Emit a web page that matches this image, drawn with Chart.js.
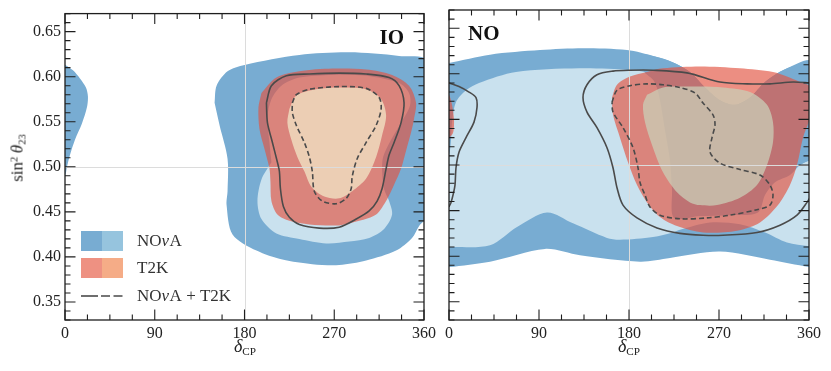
<!DOCTYPE html>
<html>
<head>
<meta charset="utf-8">
<title>NOvA and T2K, sin2 theta23 vs delta CP</title>
<script src="https://cdn.jsdelivr.net/npm/chart.js"></script>
<style>
  body { margin: 0; background: #fff; }
  #wrap { position: relative; width: 831px; height: 371px; font-family: "Liberation Serif", serif; color: #222; }
  canvas { position: absolute; top: 0; }
  #io { left: 0; }
  #no { left: 440px; }
  .xt { position: absolute; top: 337px; transform: translateX(-50%); font-size: 18px; line-height: 1; white-space: nowrap; }
  .yt { position: absolute; left: 17px; top: 158px; transform: translate(-50%, -50%) rotate(-90deg); font-size: 17px; font-weight: normal; line-height: 1; white-space: nowrap; }
  .sb { font-size: 0.62em; position: relative; top: 0.3em; }
  .sp { font-size: 0.62em; position: relative; top: -0.45em; }
</style>
</head>
<body>
<div id="wrap">
  <canvas id="io" width="440" height="371"></canvas>
  <canvas id="no" width="391" height="371"></canvas>
  <div class="yt">sin<span class="sp">2</span>&#8201;<i>θ</i><span class="sb">23</span></div>
  <div class="xt" style="left:245px"><i>δ</i><span class="sb">CP</span></div>
  <div class="xt" style="left:629px"><i>δ</i><span class="sb">CP</span></div>
</div>
<script>
// axis ticks
const xTickVals = [0, 90, 180, 270, 360];
const yTickVals = [0.35, 0.40, 0.45, 0.50, 0.55, 0.60, 0.65];

// ---- IO panel (delta_CP in degrees, sin^2 theta23) ----
const ioNova90D = [150, 155, 163, 163, 162, 168, 192, 218, 248, 275, 302, 332, 348, 355, 363, 363, 335, 285, 235, 180, 163, 152];
const ioNova90S = [0.571, 0.546, 0.509, 0.473, 0.458, 0.425, 0.407, 0.397, 0.392, 0.391, 0.396, 0.407, 0.421, 0.434, 0.446, 0.617, 0.623, 0.627, 0.624, 0.613, 0.606, 0.590];
const ioNova90WrapD = [-3, 0, 8, 15, 21, 23, 22, 17, 10, 5, 2, 0, -3];
const ioNova90WrapS = [0.613, 0.613, 0.607, 0.598, 0.588, 0.578, 0.566, 0.548, 0.530, 0.513, 0.500, 0.490, 0.490];
const ioNova68D = [207, 197, 193, 197, 212, 235, 262, 285, 305, 320, 328, 325, 320, 318, 319, 327, 337, 346, 345, 335, 302, 268, 235, 217, 207, 203, 205];
const ioNova68S = [0.505, 0.486, 0.462, 0.442, 0.426, 0.420, 0.415, 0.417, 0.421, 0.431, 0.447, 0.462, 0.475, 0.495, 0.511, 0.530, 0.549, 0.568, 0.582, 0.593, 0.601, 0.602, 0.599, 0.590, 0.575, 0.555, 0.527];
const ioT2k90D = [197, 212, 235, 268, 302, 328, 345, 352, 350, 347, 343, 337, 330, 323, 312, 295, 275, 245, 225, 213, 207, 206, 205, 200, 195, 194];
const ioT2k90S = [0.582, 0.599, 0.606, 0.609, 0.608, 0.602, 0.590, 0.571, 0.553, 0.538, 0.522, 0.498, 0.480, 0.464, 0.447, 0.440, 0.435, 0.436, 0.440, 0.447, 0.462, 0.484, 0.498, 0.520, 0.542, 0.566];
const ioT2k68D = [225, 232, 252, 275, 302, 317, 322, 318, 312, 302, 288, 275, 260, 247, 240, 233, 227, 223];
const ioT2k68S = [0.564, 0.579, 0.586, 0.588, 0.586, 0.575, 0.557, 0.535, 0.511, 0.487, 0.473, 0.465, 0.467, 0.478, 0.495, 0.511, 0.530, 0.549];
const ioBoth90D = [202, 207, 222, 245, 275, 302, 325, 335, 340, 337, 330, 325, 322, 318, 313, 305, 292, 275, 255, 235, 225, 219, 216, 215, 213, 208, 203];
const ioBoth90S = [0.571, 0.590, 0.601, 0.603, 0.604, 0.603, 0.599, 0.590, 0.571, 0.549, 0.527, 0.513, 0.498, 0.476, 0.462, 0.451, 0.442, 0.433, 0.432, 0.436, 0.444, 0.456, 0.476, 0.495, 0.505, 0.527, 0.549];
const ioBoth68D = [228, 232, 245, 275, 302, 315, 317, 312, 302, 293, 288, 287, 282, 272, 258, 250, 248, 245, 240, 232, 228];
const ioBoth68S = [0.571, 0.580, 0.586, 0.589, 0.587, 0.577, 0.564, 0.546, 0.527, 0.509, 0.489, 0.476, 0.465, 0.459, 0.462, 0.473, 0.495, 0.511, 0.527, 0.546, 0.560];

// ---- NO panel ----
const noNova90D = [-3, 0, 41, 91, 134, 178, 206, 223, 241, 256, 271, 286, 301, 316, 336, 360, 363, 363, 360, 321, 271, 221, 191, 131, 96, 41, 0, -3];
const noNova90S = [0.612, 0.612, 0.621, 0.626, 0.628, 0.626, 0.619, 0.613, 0.602, 0.585, 0.571, 0.566, 0.574, 0.591, 0.605, 0.613, 0.613, 0.388, 0.388, 0.396, 0.405, 0.398, 0.394, 0.401, 0.408, 0.394, 0.388, 0.388];
const noNova68D = [-3, 0, 2, 3, 7, 17, 30, 67, 130, 181, 201, 216, 231, 251, 291, 331, 360, 363, 363, 360, 338, 316, 291, 261, 231, 224, 204, 171, 158, 124, 98, 68, 41, 0, -3];
const noNova68S = [0.511, 0.511, 0.527, 0.547, 0.569, 0.582, 0.590, 0.602, 0.606, 0.604, 0.599, 0.560, 0.520, 0.490, 0.480, 0.490, 0.505, 0.505, 0.411, 0.411, 0.415, 0.426, 0.435, 0.437, 0.429, 0.426, 0.421, 0.418, 0.420, 0.436, 0.448, 0.432, 0.412, 0.410, 0.410];
const noNovaGapD = [196, 206, 211, 216, 221, 223, 225, 251, 281, 309, 316, 326, 341, 351, 360, 363, 363, 336, 316, 301, 286, 271, 256, 241, 223, 206, 191];
const noNovaGapS = [0.601, 0.591, 0.571, 0.538, 0.505, 0.473, 0.442, 0.444, 0.445, 0.448, 0.467, 0.481, 0.489, 0.500, 0.505, 0.505, 0.613, 0.605, 0.591, 0.574, 0.566, 0.571, 0.585, 0.602, 0.613, 0.619, 0.621];
const noT2k90D = [163, 168, 181, 198, 214, 251, 291, 324, 338, 351, 362, 362, 354, 348, 341, 329, 311, 288, 254, 228, 211, 198, 188, 179, 171, 164];
const noT2k90S = [0.574, 0.588, 0.597, 0.602, 0.606, 0.608, 0.606, 0.602, 0.597, 0.591, 0.585, 0.556, 0.530, 0.500, 0.478, 0.456, 0.437, 0.428, 0.426, 0.433, 0.443, 0.459, 0.478, 0.503, 0.530, 0.555];
const noT2k90WrapD = [-3, 0, 3, 5, 4, 0, -3];
const noT2k90WrapS = [0.578, 0.577, 0.566, 0.549, 0.535, 0.530, 0.530];
const noT2k68D = [198, 214, 231, 251, 274, 301, 318, 324, 324, 318, 308, 291, 268, 251, 241, 228, 214, 203, 196, 194];
const noT2k68S = [0.577, 0.585, 0.586, 0.586, 0.585, 0.580, 0.566, 0.547, 0.525, 0.500, 0.478, 0.464, 0.456, 0.456, 0.459, 0.470, 0.492, 0.522, 0.547, 0.566];
const noBoth90D = [362, 344, 321, 298, 271, 238, 204, 181, 164, 148, 138, 134, 138, 148, 158, 164, 168, 174, 188, 208, 231, 254, 274, 308, 331, 348, 358, 362];
const noBoth90S = [0.590, 0.591, 0.589, 0.589, 0.591, 0.601, 0.604, 0.604, 0.603, 0.599, 0.588, 0.574, 0.558, 0.541, 0.519, 0.497, 0.475, 0.456, 0.442, 0.431, 0.425, 0.423, 0.423, 0.426, 0.434, 0.445, 0.459, 0.466];
const noBoth90WrapD = [0, 10, 20, 27, 28, 25, 17, 10, 7, 6, 4, 2, 0];
const noBoth90WrapS = [0.590, 0.586, 0.580, 0.574, 0.563, 0.547, 0.530, 0.514, 0.497, 0.478, 0.467, 0.459, 0.454];
const noBoth68D = [163, 168, 181, 198, 214, 231, 246, 254, 264, 266, 263, 261, 271, 291, 311, 321, 324, 321, 308, 281, 258, 231, 211, 201, 196, 191, 189, 184, 174, 164];
const noBoth68S = [0.569, 0.582, 0.587, 0.589, 0.588, 0.585, 0.579, 0.568, 0.555, 0.544, 0.530, 0.514, 0.502, 0.495, 0.489, 0.478, 0.467, 0.456, 0.451, 0.445, 0.442, 0.441, 0.445, 0.454, 0.467, 0.481, 0.497, 0.519, 0.541, 0.558];

const blueDark = '#78acd2';
const blueLight = '#c9e1ee';
const t2kOuter = 'rgba(226,84,66,0.66)';
const lineCol = '#4a4a4a';

function pts(d, s) {
  return d.map((v, i) => ({ x: v, y: s[i] }));
}
function area(d, s, color, extra) {
  const p = pts(d, s);
  p.push(p[0]);
  return Object.assign({ data: p, fill: 'shape', backgroundColor: color, borderWidth: 0, pointRadius: 0, tension: 0.3 }, extra || {});
}
function curve(d, s, dash, closed) {
  const p = pts(d, s);
  if (closed) p.push(p[0]);
  return { data: p, fill: false, borderColor: lineCol, borderWidth: 1.6, borderDash: dash, pointRadius: 0, tension: 0.3 };
}
// first in list = bottom layer
function layered(list) {
  return list.map((ds, i) => Object.assign(ds, { order: list.length - i }));
}

const tickFont = { family: 'Liberation Serif', size: 16 };

function scalesFor(showY, yWidth) {
  return {
    x: {
      type: 'linear', min: 0, max: 360,
      grid: { display: false, drawTicks: false }, border: { display: false },
      afterBuildTicks: s => { s.ticks = xTickVals.map(v => ({ value: v })); },
      afterFit: s => { s.height = 51; },
      ticks: { color: '#222', padding: 4, maxRotation: 0, autoSkip: false, font: tickFont }
    },
    y: {
      type: 'linear', min: 0.33, max: 0.67,
      grid: { display: false, drawTicks: false }, border: { display: false },
      afterBuildTicks: s => { s.ticks = yTickVals.map(v => ({ value: v })); },
      afterFit: s => { s.width = yWidth; },
      ticks: { display: showY, color: '#222', padding: 4, font: tickFont, callback: v => v.toFixed(2) }
    }
  };
}

// frame, grid lines and inward ticks
const framePlugin = {
  id: 'frame',
  afterDatasetDraw(chart, args) {
    if (!chart.data.datasets[args.index].gridAfter) return;
    const { ctx, chartArea: a, scales: { x, y } } = chart;
    ctx.save();
    ctx.strokeStyle = '#dcdcdc';
    ctx.lineWidth = 1;
    const gx = Math.round(x.getPixelForValue(180)) + 0.5;
    const gy = Math.round(y.getPixelForValue(0.5)) + 0.5;
    ctx.beginPath();
    ctx.moveTo(gx, a.top); ctx.lineTo(gx, a.bottom);
    ctx.moveTo(a.left, gy); ctx.lineTo(a.right, gy);
    ctx.stroke();
    ctx.restore();
  },
  afterDraw(chart) {
    const { ctx, chartArea: a, scales: { x, y } } = chart;
    ctx.save();
    ctx.strokeStyle = '#1e1e1e';
    ctx.lineWidth = 1.1;
    ctx.beginPath();
    for (let i = 0; i <= 16; i++) {
      const v = i * 22.5;
      const px = x.getPixelForValue(v);
      const len = xTickVals.includes(v) ? 10.5 : 5.5;
      ctx.moveTo(px, a.bottom); ctx.lineTo(px, a.bottom - len);
      ctx.moveTo(px, a.top); ctx.lineTo(px, a.top + len);
    }
    for (let i = 33; i <= 67; i++) {
      const v = i / 100;
      const py = y.getPixelForValue(v);
      const len = (i % 5 === 0) ? 10.5 : 5.5;
      ctx.moveTo(a.left, py); ctx.lineTo(a.left + len, py);
      ctx.moveTo(a.right, py); ctx.lineTo(a.right - len, py);
    }
    ctx.stroke();
    ctx.lineWidth = 1.3;
    ctx.strokeRect(a.left, a.top, a.right - a.left, a.bottom - a.top);
    ctx.restore();
  }
};

// draws "NO", italic nu, then the rest
function novaText(ctx, x, y, rest) {
  ctx.font = '17px "Liberation Serif"';
  ctx.fillText('NO', x, y);
  x += ctx.measureText('NO').width;
  ctx.font = 'italic 17px "Liberation Serif"';
  ctx.fillText('\u03BD', x, y);
  x += ctx.measureText('\u03BD').width + 0.5;
  ctx.font = '17px "Liberation Serif"';
  ctx.fillText(rest, x, y);
}

// panel label and legend (legend only on IO)
const decoPlugin = {
  id: 'deco',
  afterDraw(chart, args, opts) {
    const { ctx, chartArea: a } = chart;
    ctx.save();
    ctx.fillStyle = '#111';
    ctx.font = 'bold 21px "Liberation Serif"';
    ctx.textBaseline = 'alphabetic';
    if (opts.align === 'right') {
      ctx.textAlign = 'right';
      ctx.fillText(opts.text, a.right - 20, a.top + 30);
    } else {
      ctx.textAlign = 'left';
      ctx.fillText(opts.text, a.left + 19, a.top + 30);
    }
    if (opts.legend) {
      const lx = a.left + 16, w = 21, h = 20;
      const rows = [a.bottom - 89, a.bottom - 62];
      ctx.fillStyle = '#78acd2'; ctx.fillRect(lx, rows[0], w, h);
      ctx.fillStyle = '#96c4de'; ctx.fillRect(lx + w, rows[0], w, h);
      ctx.fillStyle = '#ee9182'; ctx.fillRect(lx, rows[1], w, h);
      ctx.fillStyle = '#f5ac87'; ctx.fillRect(lx + w, rows[1], w, h);
      const ly = a.bottom - 24;
      ctx.strokeStyle = lineCol; ctx.lineWidth = 1.6;
      ctx.beginPath(); ctx.moveTo(lx, ly); ctx.lineTo(lx + 17, ly); ctx.stroke();
      ctx.setLineDash([9, 3.5]);
      ctx.beginPath(); ctx.moveTo(lx + 20, ly); ctx.lineTo(lx + 42, ly); ctx.stroke();
      ctx.setLineDash([]);
      ctx.fillStyle = '#333';
      ctx.textAlign = 'left';
      ctx.textBaseline = 'middle';
      const tx = lx + 56;
      novaText(ctx, tx, rows[0] + 11, 'A');
      ctx.fillText('T2K', tx, rows[1] + 11);
      novaText(ctx, tx, ly + 1, 'A + T2K');
    }
    ctx.restore();
  }
};

const ioDatasets = layered([
  area(ioNova90D, ioNova90S, blueDark),
  area(ioNova90WrapD, ioNova90WrapS, blueDark),
  area(ioNova68D, ioNova68S, blueLight),
  area(ioT2k90D, ioT2k90S, t2kOuter),
  area(ioT2k68D, ioT2k68S, 'rgba(238,218,190,0.85)', { gridAfter: true }),
  curve(ioBoth90D, ioBoth90S, [], true),
  curve(ioBoth68D, ioBoth68S, [5, 3], true)
]);

const noDatasets = layered([
  area(noNova90D, noNova90S, blueDark),
  area(noNova68D, noNova68S, blueLight),
  area(noNovaGapD, noNovaGapS, blueDark),
  area(noT2k90D, noT2k90S, t2kOuter),
  area(noT2k90WrapD, noT2k90WrapS, t2kOuter),
  area(noT2k68D, noT2k68S, 'rgba(201,207,183,0.75)', { gridAfter: true }),
  curve(noBoth90D, noBoth90S, [], false),
  curve(noBoth90WrapD, noBoth90WrapS, [], false),
  curve(noBoth68D, noBoth68S, [5, 3], true)
]);

function makeChart(id, datasets, showY, yWidth, padRight, deco) {
  return new Chart(document.getElementById(id), {
    type: 'line',
    data: { datasets: datasets },
    options: {
      responsive: false,
      animation: false,
      layout: { padding: { top: 10, right: padRight, left: 0, bottom: 0 } },
      plugins: { legend: { display: false }, tooltip: { enabled: false }, deco: deco },
      scales: scalesFor(showY, yWidth)
    },
    plugins: [framePlugin, decoPlugin]
  });
}

makeChart('io', ioDatasets, true, 65, 15, { text: 'IO', align: 'right', legend: true });
makeChart('no', noDatasets, false, 9, 22, { text: 'NO', align: 'left', legend: false });
</script>
</body>
</html>
